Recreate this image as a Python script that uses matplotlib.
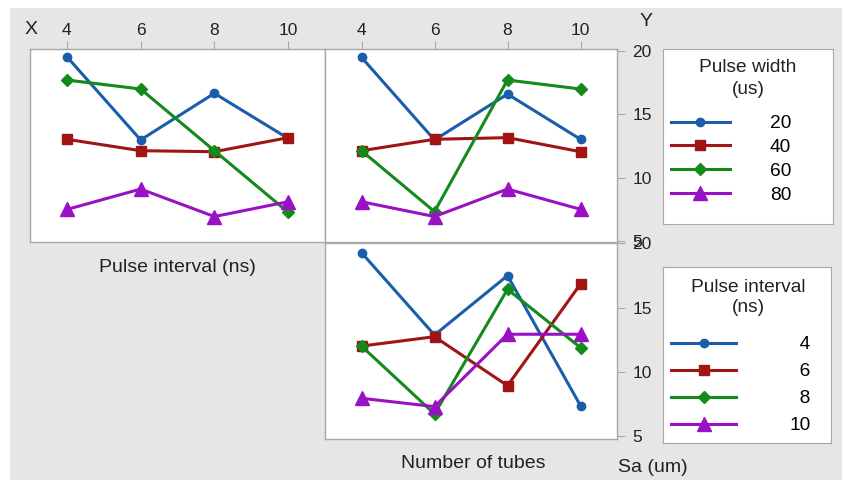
import matplotlib.pyplot as plt
from matplotlib.patches import Rectangle

# niveles de los factores
levels = [4, 6, 8, 10]
width_labels = ['20', '40', '60', '80']
interval_labels = ['4', '6', '8', '10']

# Sa (um) frente a intervalo de pulso, una serie por ancho de pulso
sa_interval_by_width = [
    [19.55, 12.98, 16.66, 13.10],
    [13.03, 12.13, 12.05, 13.16],
    [17.71, 17.00, 12.13, 7.27],
    [7.49, 9.10, 6.93, 8.10],
]
# Sa (um) frente a numero de tubos, una serie por ancho de pulso
sa_tubes_by_width = [
    [19.50, 12.98, 16.60, 13.03],
    [12.13, 13.03, 13.16, 12.05],
    [12.13, 7.32, 17.71, 17.00],
    [8.10, 6.93, 9.10, 7.50],
]
# Sa (um) frente a numero de tubos, una serie por intervalo de pulso
sa_tubes_by_interval = [
    [19.27, 12.86, 17.48, 7.36],
    [12.00, 12.73, 8.92, 16.83],
    [12.00, 6.72, 16.42, 11.88],
    [7.94, 7.29, 12.92, 12.92],
]

colors = ['#1a5eab', '#a01414', '#138a1a', '#9a10c4']
markers = ['o', 's', 'D', '^']
msizes = [6, 6.5, 6.5, 10]

plt.rcParams['font.family'] = ['Liberation Sans', 'DejaVu Sans']
W, H = 842, 480
fig = plt.figure(figsize=(W / 100, H / 100), dpi=100)
fig.patches.append(Rectangle((10 / W, 0), 1, 1 - 8 / H, transform=fig.transFigure,
                             facecolor='#e6e6e6', edgecolor='none', zorder=-10))


def box(x0, y0, x1, y1):
    # caja en pixeles (arriba-izquierda) -> coordenadas de figura
    return [x0 / W, 1 - y1 / H, (x1 - x0) / W, (y1 - y0) / H]


def px(x, y):
    return x / W, 1 - y / H


def panel(rect, data, ylim, top_ticks, right_ticks):
    ax = fig.add_axes(rect)
    lines = []
    for vals, c, m, ms in zip(data, colors, markers, msizes):
        ln, = ax.plot(levels, vals, color=c, marker=m, markersize=ms, linewidth=2.2,
                      markeredgecolor=c)
        lines.append(ln)
    ax.set_xlim(3, 11)
    ax.set_ylim(*ylim)
    for s in ax.spines.values():
        s.set_color('#a8a8a8')
        s.set_linewidth(1)
    ax.set_xticks(levels)
    ax.set_yticks([5, 10, 15, 20])
    ax.tick_params(colors='#a8a8a8', labelcolor='#222222', labelsize=12.5, length=6)
    ax.tick_params(axis='x', top=top_ticks, labeltop=top_ticks, bottom=False, labelbottom=False, pad=2)
    ax.tick_params(axis='y', right=right_ticks, labelright=right_ticks, left=False, labelleft=False, pad=5)
    return ax, lines


ax1, _ = panel(box(30, 49, 325, 242), sa_interval_by_width, (4.92, 20.16), True, False)
ax2, lines_w = panel(box(325, 49, 617, 242), sa_tubes_by_width, (4.92, 20.16), True, True)
ax3, lines_i = panel(box(325, 243, 617, 439), sa_tubes_by_interval, (4.77, 20.02), False, True)


def legend_box(rect, lines, labels, title, title_y, title_ls, anchor, hlen, tpad, lspace):
    lax = fig.add_axes(rect)
    lax.set_xticks([])
    lax.set_yticks([])
    for s in lax.spines.values():
        s.set_color('#a8a8a8')
    fig.text(*px(748, title_y), title, fontsize=13.8, color='#222222', ha='center', va='center',
             linespacing=title_ls)
    lax.legend(lines, labels, loc='upper left', bbox_to_anchor=px(*anchor), bbox_transform=fig.transFigure,
               frameon=False, fontsize=13.8, handlelength=hlen, handletextpad=tpad,
               labelspacing=lspace, borderpad=0, borderaxespad=0)


legend_box(box(663, 49, 833, 224), lines_w, width_labels, 'Pulse width\n(us)', 78.5, 1.35,
           (671, 115), 3.07, 2.08, 0.33)
legend_box(box(663, 267, 831, 443), lines_i, ['\u2007' + l if len(l) == 1 else l for l in interval_labels],
           'Pulse interval\n(ns)', 297.5, 1.25, (671, 336), 3.4, 2.76, 0.5)

txt = dict(fontsize=14, color='#222222', ha='center', va='center')
fig.text(*px(31, 30), 'X', **txt)
fig.text(*px(646, 22), 'Y', **txt)
fig.text(*px(177.5, 267), 'Pulse interval (ns)', **txt)
fig.text(*px(473, 464), 'Number of tubes', **txt)
fig.text(*px(653, 467), 'Sa (um)', **txt)

fig.savefig('out.png', dpi=100)
